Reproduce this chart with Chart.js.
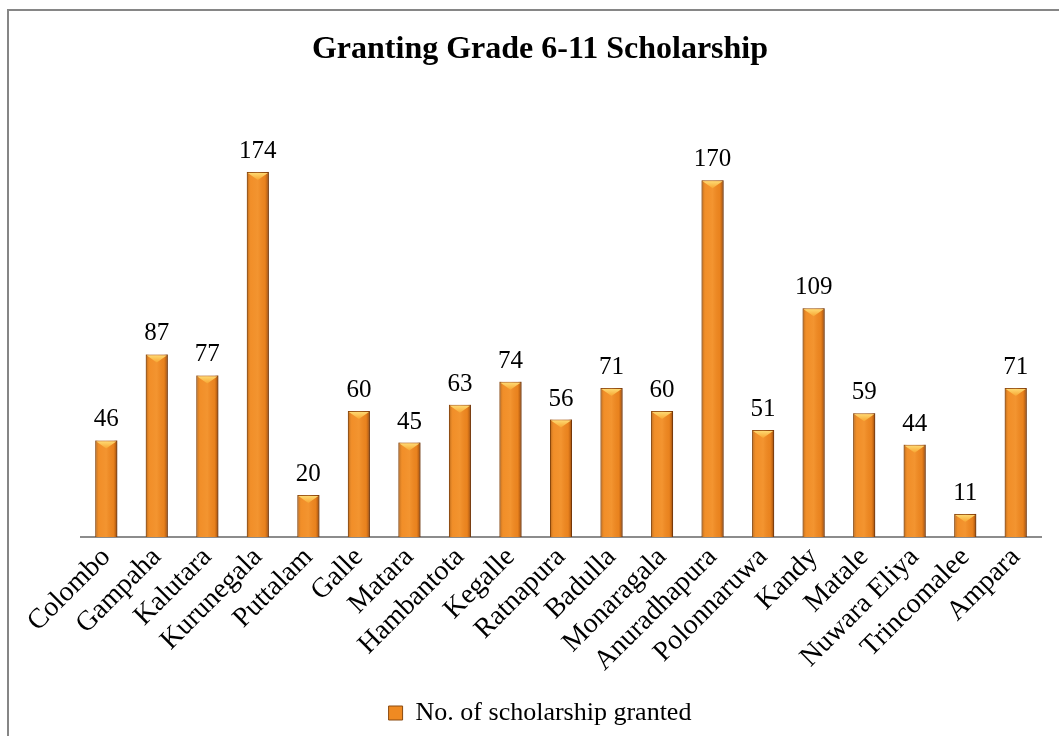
<!DOCTYPE html>
<html>
<head>
    <title>Granting Grade 6-11 Scholarship</title>
    <script src="https://cdn.jsdelivr.net/npm/chart.js"></script>
    <style>
        html, body { margin: 0; padding: 0; background: #fff; }
        #wrap { width: 1059px; height: 736px; }
    </style>
</head>
<body>
<div id="wrap"><canvas id="myChart" width="1059" height="736"></canvas></div>

<script>
    var districts = ['Colombo', 'Gampaha', 'Kalutara', 'Kurunegala', 'Puttalam', 'Galle', 'Matara',
        'Hambantota', 'Kegalle', 'Ratnapura', 'Badulla', 'Monaragala', 'Anuradhapura', 'Polonnaruwa',
        'Kandy', 'Matale', 'Nuwara Eliya', 'Trincomalee', 'Ampara'];
    var scholarships = [46, 87, 77, 174, 20, 60, 45, 63, 74, 56, 71, 60, 170, 51, 109, 59, 44, 11, 71];
    var seriesName = 'No. of scholarship granted';

    var serif = "'Liberation Serif', 'Times New Roman', serif";

    // frame around the chart (right and bottom edges fall outside the picture)
    var framePlugin = {
        id: 'frame',
        beforeDraw(chart) {
            var c = chart.ctx;
            c.save();
            c.strokeStyle = '#868686';
            c.lineWidth = 2;
            c.strokeRect(8, 10, chart.width + 20, chart.height + 20);
            c.restore();
        }
    };

    // bevelled look on each bar + value labels above
    var barDecor = {
        id: 'barDecor',
        afterDatasetsDraw(chart) {
            var c = chart.ctx;
            var meta = chart.getDatasetMeta(0);
            c.save();
            meta.data.forEach(function (bar, i) {
                var w = bar.width, x0 = bar.x - w / 2, x1 = bar.x + w / 2;
                var top = bar.y, bottom = bar.base;
                // side shading
                var g = c.createLinearGradient(x0, 0, x1, 0);
                g.addColorStop(0, 'rgba(120,55,0,0.55)');
                g.addColorStop(0.18, 'rgba(255,170,80,0.15)');
                g.addColorStop(0.5, 'rgba(255,180,90,0.25)');
                g.addColorStop(0.82, 'rgba(200,90,10,0.15)');
                g.addColorStop(1, 'rgba(90,35,0,0.7)');
                c.fillStyle = g;
                c.fillRect(x0, top, w, bottom - top);
                // top bevel
                var d = Math.min(8, (bottom - top) / 2);
                var tg = c.createLinearGradient(0, top, 0, top + d);
                tg.addColorStop(0, '#ffe07a');
                tg.addColorStop(1, '#f7a531');
                c.fillStyle = tg;
                c.beginPath();
                c.moveTo(x0 + 1, top + 1);
                c.lineTo(x1 - 1, top + 1);
                c.lineTo(bar.x, top + d);
                c.closePath();
                c.fill();
                // value label
                c.fillStyle = '#000';
                c.font = '25px ' + serif;
                c.textAlign = 'center';
                c.textBaseline = 'alphabetic';
                c.fillText(String(scholarships[i]), bar.x, top - 14);
            });
            c.restore();
        }
    };

    var ctx = document.getElementById('myChart').getContext('2d');
    var myChart = new Chart(ctx, {
        type: 'bar',
        data: {
            labels: districts,
            datasets: [{
                label: seriesName,
                data: scholarships,
                backgroundColor: '#ef8a22',
                borderColor: '#8a4a10',
                borderWidth: 1,
                barPercentage: 0.435,
                categoryPercentage: 1.0
            }]
        },
        options: {
            responsive: false,
            animation: false,
            layout: {
                padding: { left: 39, right: 18, top: 10, bottom: 0 }
            },
            scales: {
                x: {
                    grid: { display: false, drawTicks: false },
                    border: { display: true, color: '#8c8c8c', width: 2 },
                    ticks: {
                        color: '#000',
                        font: { family: serif, size: 28 },
                        minRotation: 45,
                        maxRotation: 45,
                        autoSkip: false,
                        padding: 4
                    },
                    afterFit(scale) { scale.height = 159; }
                },
                y: {
                    display: true,
                    min: 0,
                    max: 200,
                    grid: { display: false, drawTicks: false },
                    border: { display: false },
                    ticks: { display: false },
                    afterFit(scale) { scale.width = 42; }
                }
            },
            plugins: {
                title: {
                    display: true,
                    text: 'Granting Grade 6-11 Scholarship',
                    color: '#000',
                    font: { family: serif, size: 32, weight: 'bold' },
                    padding: { top: 21, bottom: 48 }
                },
                legend: {
                    position: 'bottom',
                    labels: {
                        color: '#000',
                        font: { family: serif, size: 26 },
                        boxWidth: 14,
                        boxHeight: 14,
                        padding: 4
                    }
                },
                tooltip: { enabled: false }
            }
        },
        plugins: [framePlugin, barDecor]
    });
</script>

</body>
</html>
